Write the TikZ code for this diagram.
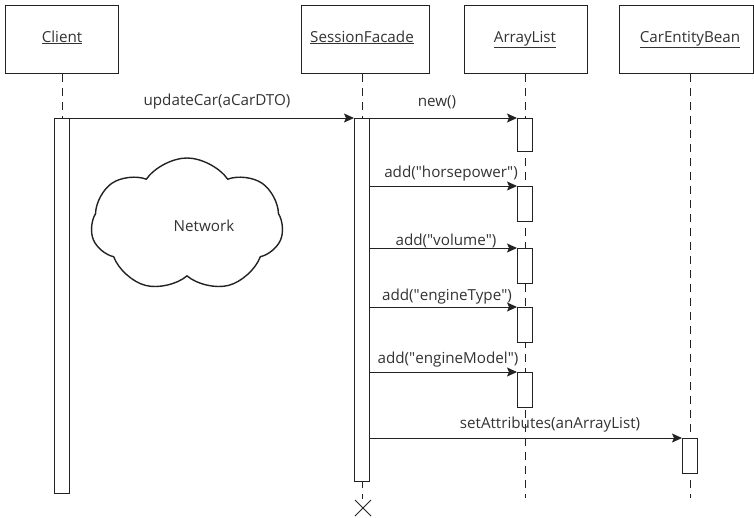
\documentclass[tikz,border=0pt]{standalone}
\usepackage{fontspec}
\setmainfont{Open Sans}
\usetikzlibrary{arrows.meta,shapes.symbols}
\definecolor{ink}{HTML}{222222}
\definecolor{txt}{HTML}{333333}
\newcommand{\qq}{\textquotedbl}
\begin{document}
\begin{tikzpicture}[x=1pt,y=-1pt,
  every node/.style={font=\fontsize{15.2}{17}\selectfont, text=txt},
  head/.style={draw=ink, line width=1.3pt, fill=white, minimum width=113pt, minimum height=68pt, inner sep=0pt, anchor=north west},
  act/.style={draw=ink, line width=1pt, fill=white, minimum width=15pt, inner sep=0pt, anchor=north},
  life/.style={draw=ink, line width=1pt, dash pattern=on 8pt off 6pt},
  msg/.style={draw=ink, line width=1pt, -{Stealth[length=10pt,width=9pt,inset=2pt]}},
  lbl/.style={inner sep=0pt, anchor=base}]
\useasboundingbox (0,0) rectangle (754,517);
% heads
\node[head] (client) at (5,5) {};
\node[head, minimum width=128pt] (sf) at (301,5) {};
\node[head, minimum width=123pt] (al) at (464,5) {};
\node[head, minimum width=134pt] (ceb) at (619,5) {};
\node[lbl] (tclient) at (62,42) {\underline{Client}};
\node[lbl] (tsf) at (362,42) {\underline{SessionFacade}};
\node[lbl] (tal) at (525,42) {\underline{ArrayList}};
\node[lbl] (tceb) at (690,42) {\underline{CarEntityBean}};
% lifeline ends
\coordinate (sfend) at (362,499);
\coordinate (alend) at (525,498);
\coordinate (cebend) at (690,498);
% lifelines
\draw[life] (client.south -| 62,0) -- (62,118);
\draw[life] (sf.south -| 362,0) -- (sfend);
\draw[life] (al.south -| 525,0) -- (alend);
\draw[life] (ceb.south -| 690,0) -- (cebend);
% activations
\node[act, minimum height=375pt] (ca) at (62,118) {};
\node[act, minimum height=363pt] (sa) at (362,118) {};
\node[act, minimum height=33pt] (a1) at (525,118) {};
\node[act, minimum height=35pt] (a2) at (525,186) {};
\node[act, minimum height=35pt] (a3) at (525,248) {};
\node[act, minimum height=35pt] (a4) at (525,307) {};
\node[act, minimum height=35pt] (a5) at (525,372) {};
\node[act, minimum height=35pt] (b1) at (690,438) {};
% destruction
\draw[ink, line width=1pt] (355,500) -- (371,516) (371,500) -- (355,516);
% messages
\draw[msg] (ca.north east) -- (sa.north west);
\draw[msg] (sa.north east) -- (a1.north west);
\draw[msg] (sa.east |- a2.north) -- (a2.north west);
\draw[msg] (sa.east |- a3.north) -- (a3.north west);
\draw[msg] (sa.east |- a4.north) -- (a4.north west);
\draw[msg] (sa.east |- a5.north) -- (a5.north west);
\draw[msg] (sa.east |- b1.north) -- (b1.north west);
\node[lbl] (m0) at (217,105) {updateCar(aCarDTO)};
\node[lbl] (m1) at (437,106) {new()};
\node[lbl] (m2) at (451,177) {add(\qq horsepower\qq)};
\node[lbl] (m3) at (446,245) {add(\qq volume\qq)};
\node[lbl] (m4) at (447,300) {add(\qq engineType\qq)};
\node[lbl] (m5) at (448,363) {add(\qq engineModel\qq)};
\node[lbl] (m6) at (550,428) {setAttributes(anArrayList)};
% cloud
\node[cloud, draw=ink, line width=1.4pt, cloud puffs=7, cloud puff arc=110, cloud ignores aspect, minimum width=192pt, minimum height=134pt, aspect=1.4] (net) at (187,225) {};
\node[lbl] (tnet) at (204,231) {Network};
\end{tikzpicture}
\end{document}
